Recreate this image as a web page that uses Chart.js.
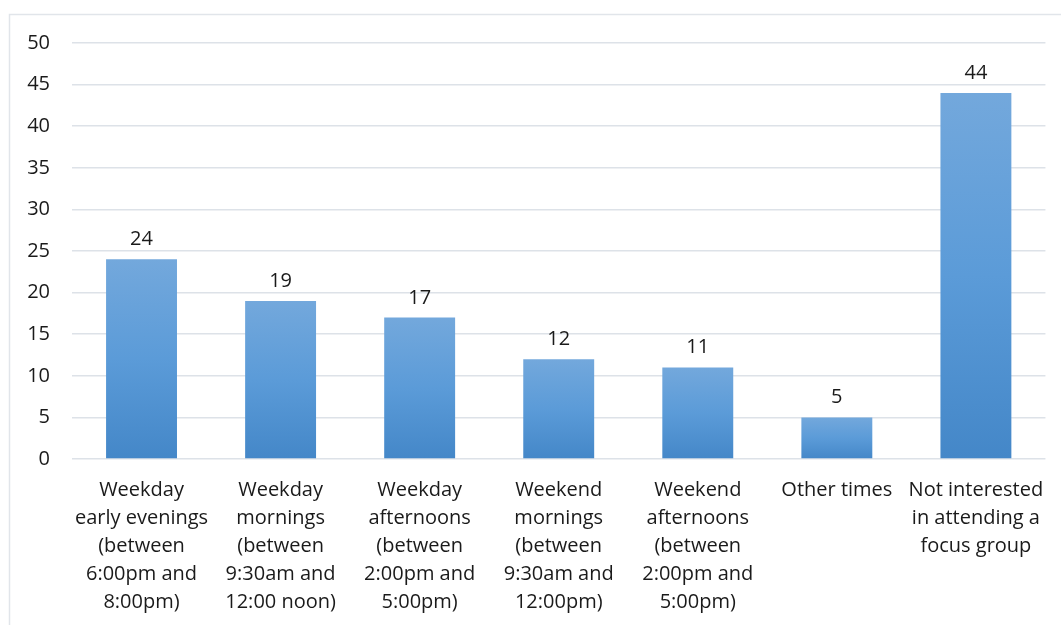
<!DOCTYPE html>
<html>
<head>
<meta charset="utf-8">
<script src="https://cdn.jsdelivr.net/npm/chart.js@4/dist/chart.umd.min.js"></script>
<style>
  html, body { margin: 0; padding: 0; background: #ffffff; }
  #wrap { position: relative; width: 1061px; height: 625px; }
</style>
</head>
<body>
<div id="wrap"><canvas id="chart" width="1061" height="625"></canvas></div>
<script>
// Preferred times for attending a focus group (number of responses)
const categories = [
  ["Weekday", "early evenings", "(between", "6:00pm and", "8:00pm)"],
  ["Weekday", "mornings", "(between", "9:30am and", "12:00 noon)"],
  ["Weekday", "afternoons", "(between", "2:00pm and", "5:00pm)"],
  ["Weekend", "mornings", "(between", "9:30am and", "12:00pm)"],
  ["Weekend", "afternoons", "(between", "2:00pm and", "5:00pm)"],
  "Other times",
  ["Not interested", "in attending a", "focus group"]
];
const responses = [24, 19, 17, 12, 11, 5, 44];
const yTicks = [0, 5, 10, 15, 20, 25, 30, 35, 40, 45, 50];

const FONT = "'Open Sans', 'Noto Sans', sans-serif";
const TEXT = "#1a1a1a";
const GRID = "#dde2e8";

// Vertical gradient per bar, lighter at the top and deeper at the base
function barFill(ctx) {
  const chart = ctx.chart;
  const area = chart.chartArea;
  if (!area || ctx.type !== 'data') return '#5b9bd5';
  const y = chart.scales.y;
  const top = y.getPixelForValue(ctx.raw);
  const base = y.getPixelForValue(0);
  const g = chart.ctx.createLinearGradient(0, top, 0, base);
  g.addColorStop(0, '#73a8dc');
  g.addColorStop(0.5, '#5b9bd8');
  g.addColorStop(1, '#4487c8');
  return g;
}

// Light outline around the chart frame
const framePlugin = {
  id: 'frame',
  beforeDraw(chart) {
    const c = chart.ctx;
    c.save();
    c.strokeStyle = '#e1e5ea';
    c.lineWidth = 1.5;
    c.strokeRect(9.5, 14.5, 1080, 640);
    c.restore();
  }
};

// Value labels above each bar
const valueLabels = {
  id: 'valueLabels',
  afterDatasetsDraw(chart) {
    const c = chart.ctx;
    const meta = chart.getDatasetMeta(0);
    c.save();
    c.font = "20px " + FONT;
    c.fillStyle = TEXT;
    c.textAlign = 'center';
    c.textBaseline = 'alphabetic';
    meta.data.forEach((bar, i) => {
      c.fillText(String(responses[i]), bar.x, bar.y - 14);
    });
    c.restore();
  }
};

new Chart(document.getElementById('chart'), {
  type: 'bar',
  data: {
    labels: categories,
    datasets: [{
      data: responses,
      backgroundColor: barFill,
      borderWidth: 0,
      barPercentage: 0.51,
      categoryPercentage: 1.0
    }]
  },
  options: {
    responsive: false,
    animation: false,
    devicePixelRatio: 1,
    layout: { padding: { top: 43, right: 11, bottom: 0, left: 0 } },
    plugins: {
      legend: { display: false },
      tooltip: { enabled: false }
    },
    scales: {
      x: {
        grid: { display: false, drawTicks: false },
        border: { display: false },
        ticks: {
          color: TEXT,
          font: { family: FONT, size: 20, lineHeight: 1.4 },
          padding: 17,
          maxRotation: 0,
          minRotation: 0,
          autoSkip: false
        },
        afterFit(scale) { scale.height = 166; }
      },
      y: {
        min: 0,
        max: 50,
        afterBuildTicks(scale) { scale.ticks = yTicks.map(v => ({ value: v })); },
        grid: { color: GRID, lineWidth: 1.5, drawTicks: false },
        border: { display: false },
        ticks: {
          color: TEXT,
          font: { family: FONT, size: 20 },
          padding: 22
        },
        afterFit(scale) { scale.width = 72; }
      }
    }
  },
  plugins: [framePlugin, valueLabels]
});
</script>
</body>
</html>
